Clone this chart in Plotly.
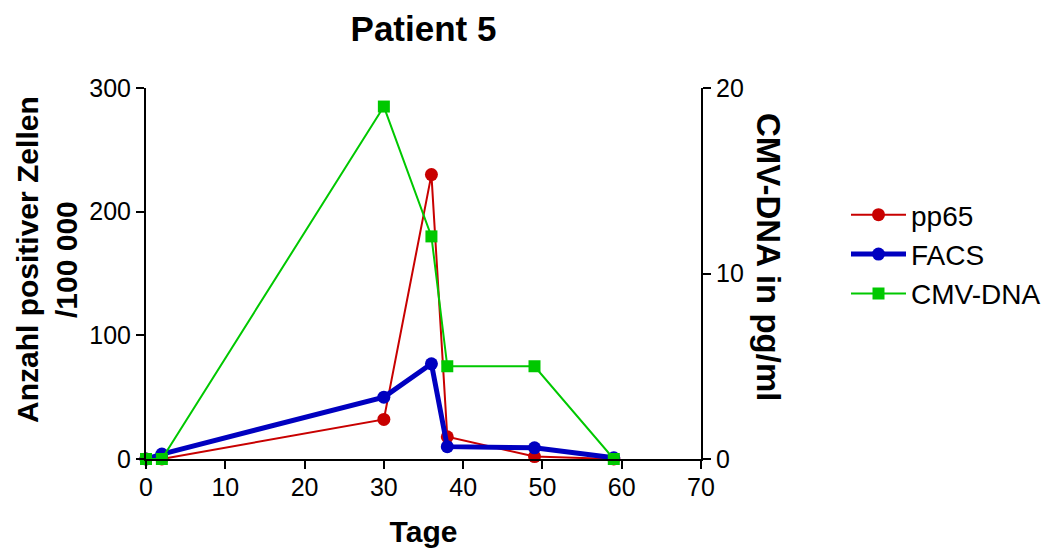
import plotly.graph_objects as go

# Days after transplant
days = [0, 2, 30, 36, 38, 49, 59]

# Positive cells per 100 000 (left axis)
pp65 = [0, 0, 32, 230, 18, 2, 0]
facs = [0, 4, 50, 77, 10, 9, 1]

# CMV-DNA in pg/ml (right axis)
cmv_dna = [0, 0, 19, 12, 5, 5, 0]

x_ticks = [0, 10, 20, 30, 40, 50, 60, 70]
y_left_ticks = [0, 100, 200, 300]
y_right_ticks = [0, 10, 20]

FONT = "Arial, Liberation Sans, sans-serif"

fig = go.Figure()

fig.add_trace(go.Scatter(
    x=days, y=cmv_dna, name="CMV-DNA", yaxis="y2", mode="lines+markers",
    line=dict(color="#00c800", width=2),
    marker=dict(symbol="square", size=12, color="#00c800"),
    cliponaxis=False, legendrank=3,
))
fig.add_trace(go.Scatter(
    x=days, y=pp65, name="pp65", mode="lines+markers",
    line=dict(color="#c80000", width=2),
    marker=dict(symbol="circle", size=13, color="#c80000"),
    cliponaxis=False, legendrank=1,
))
fig.add_trace(go.Scatter(
    x=days, y=facs, name="FACS", mode="lines+markers",
    line=dict(color="#0000c0", width=5),
    marker=dict(symbol="circle", size=13, color="#0000c0"),
    cliponaxis=False, legendrank=2,
))

axis_common = dict(
    showgrid=False, zeroline=False, showline=True, linecolor="black",
    linewidth=2, ticks="outside", ticklen=8, tickwidth=2, tickcolor="black",
    tickfont=dict(family=FONT, size=25, color="black"),
)

fig.update_layout(
    width=1058, height=548,
    margin=dict(l=146, r=357, t=88, b=89, autoexpand=False),
    paper_bgcolor="white", plot_bgcolor="white",
    font=dict(family=FONT, color="black"),
    title=dict(text="<b>Patient 5</b>", x=(146 + 701) / 2 / 1058, xanchor="center",
               y=1 - 29 / 548, yanchor="middle",
               font=dict(family=FONT, size=35, color="black")),
    xaxis=dict(range=[0, 70], tickvals=x_ticks, ticklabelstandoff=-3,
               title=dict(text="<b>Tage</b>", standoff=22,
                          font=dict(family=FONT, size=30, color="black")),
               **axis_common),
    yaxis=dict(range=[0, 300], tickvals=y_left_ticks, **axis_common),
    yaxis2=dict(range=[0, 20], tickvals=y_right_ticks, overlaying="y",
                side="right", anchor="x", **axis_common),
    legend=dict(x=(846 - 146) / 555, y=(459 - 190) / 371, xanchor="left",
                yanchor="top", itemwidth=55, tracegroupgap=0,
                font=dict(family=FONT, size=28, color="black"),
                bgcolor="rgba(0,0,0,0)"),
    showlegend=True,
)

fig.add_annotation(
    text="<b>Anzahl positiver Zellen<br>/100 000</b>",
    xref="paper", yref="paper", x=(47 - 146) / 555, y=(459 - 260) / 371,
    xanchor="center", yanchor="middle", textangle=-90, showarrow=False,
    font=dict(family=FONT, size=30, color="black"),
)
fig.add_annotation(
    text="<b>CMV-DNA in pg/ml</b>",
    xref="paper", yref="paper", x=(769 - 146) / 555, y=(459 - 257) / 371,
    xanchor="center", yanchor="middle", textangle=90, showarrow=False,
    font=dict(family=FONT, size=33, color="black"),
)

fig.write_html("out.html")
